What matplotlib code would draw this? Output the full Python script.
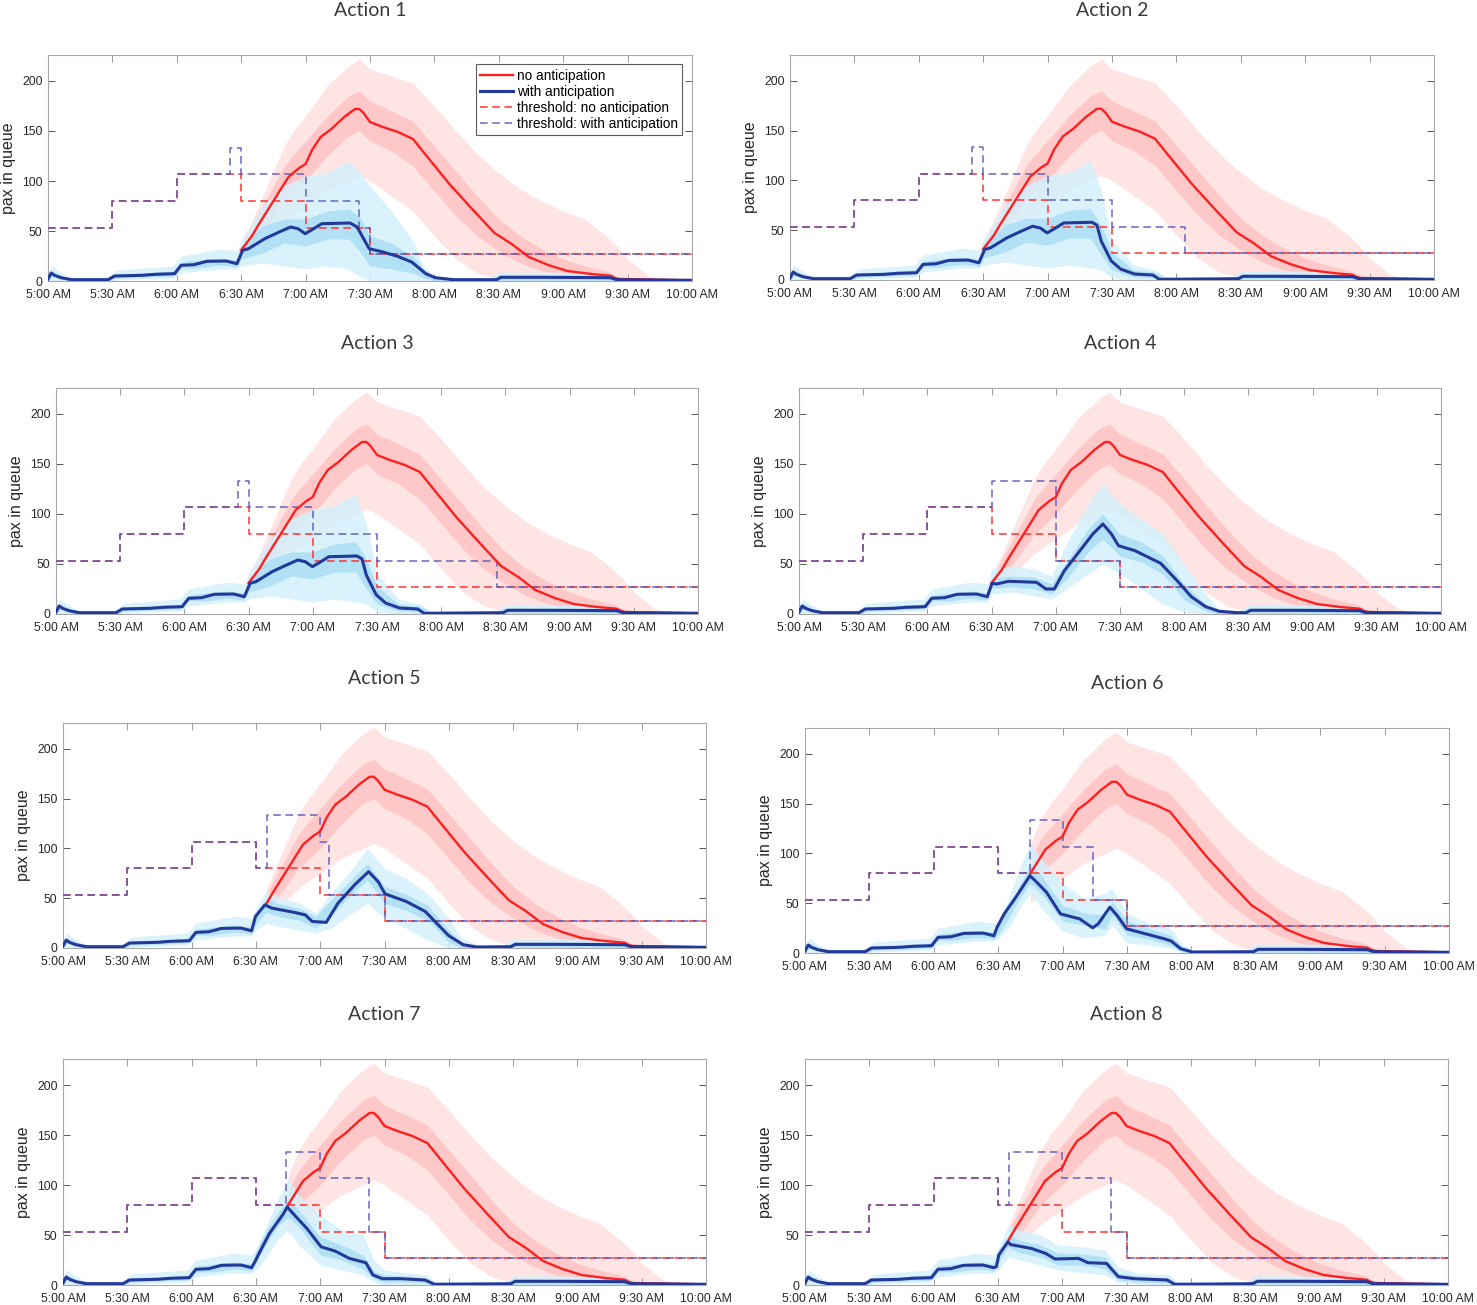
import matplotlib
matplotlib.use("Agg")
import matplotlib.pyplot as plt

# ---- axis text ----
titles = ["Action 1", "Action 2", "Action 3", "Action 4",
          "Action 5", "Action 6", "Action 7", "Action 8"]
tick_minutes = [0, 30, 60, 90, 120, 150, 180, 210, 240, 270, 300]
tick_labels = ["5:00 AM", "5:30 AM", "6:00 AM", "6:30 AM", "7:00 AM", "7:30 AM",
               "8:00 AM", "8:30 AM", "9:00 AM", "9:30 AM", "10:00 AM"]
y_ticks = [0, 50, 100, 150, 200]

# ---- thresholds (minutes after 5:00 AM, step starts) ----
red_thr_t = [0, 30, 60, 90, 120, 150, 300]
red_thr_v = [53.3, 80, 106.7, 80, 53.3, 26.7]
blue_thr_t = [
    [0, 30, 60, 85, 90, 120, 145, 150, 300],
    [0, 30, 60, 85, 90, 120, 150, 184, 300],
    [0, 30, 60, 85, 90, 120, 150, 206, 300],
    [0, 30, 60, 90, 120, 150, 300],
    [0, 30, 60, 90, 95, 120, 124, 150, 300],
    [0, 30, 60, 90, 105, 120, 134, 150, 300],
    [0, 30, 60, 90, 104, 120, 143, 150, 300],
    [0, 30, 60, 90, 95, 120, 143, 150, 300],
]
blue_thr_v = [
    [53.3, 80, 106.7, 133.3, 106.7, 80, 53.3, 26.7],
    [53.3, 80, 106.7, 133.3, 106.7, 80, 53.3, 26.7],
    [53.3, 80, 106.7, 133.3, 106.7, 80, 53.3, 26.7],
    [53.3, 80, 106.7, 133.3, 53.3, 26.7],
    [53.3, 80, 106.7, 80, 133.3, 106.7, 53.3, 26.7],
    [53.3, 80, 106.7, 80, 133.3, 106.7, 53.3, 26.7],
    [53.3, 80, 106.7, 80, 133.3, 106.7, 53.3, 26.7],
    [53.3, 80, 106.7, 80, 133.3, 106.7, 53.3, 26.7],
]

# ---- mean queue: no anticipation (shared) ----
red_t = [90, 95, 98, 105, 112, 117, 120, 123, 127, 132, 138, 143, 145, 147, 150, 156,
         163, 170, 176, 187, 198, 208, 216, 224, 233, 242, 253, 262, 264, 266, 280, 299]
red_v = [31, 45, 56, 80, 104, 113, 117, 131, 144, 152, 164, 172, 172, 168, 159, 154,
         149, 142, 126, 97, 71, 48, 37, 24, 16, 10, 7, 5.3, 3, 2, 1.5, 0.7]
red_start = [0, 0, 0, 0, 1, 3, 3, 1]  # index into red_t where red splits off

# ---- mean queue: with anticipation ----
blue_pre_t = [0, 1.5, 3, 6, 11, 28, 31, 44, 50, 59, 62, 68, 74, 83, 88]
blue_pre_v = [2, 8, 5.7, 3.3, 1.3, 1.3, 5, 5.7, 6.7, 7.3, 15.7, 16.3, 19.7, 20, 17.3]
blue_tail_t = [209, 211, 231, 262, 265, 300]
blue_tail_v = [1.3, 3.7, 3.7, 3.3, 1.3, 0.7]
blue_mid_t = [
    [90.7, 93.4, 101, 107.7, 113, 116.5, 119.8, 123, 127.5, 140.7, 144, 149.6, 156, 162.8, 169.4, 176, 180.4, 189],
    [90.7, 93.4, 101, 107.7, 113, 116.5, 119.8, 123, 127.5, 140.7, 143, 145, 149.6, 154, 160.5, 169, 172],
    [90.7, 93.4, 101, 107.7, 113, 116.5, 119.8, 123, 127.5, 140.7, 143, 145, 149.6, 154, 160.5, 169, 172],
    [90.2, 92.4, 97.9, 111, 115.4, 119.3, 124, 130.7, 137.3, 142, 146, 149.3, 157, 169, 176.7, 183.3, 190, 196.4, 205],
    [89.8, 94.2, 97.5, 107.4, 113, 116.2, 122.8, 128.3, 136, 142.6, 147, 150.3, 160.2, 169, 173.5, 180, 186.7, 193],
    [89.5, 92.8, 98.2, 104.8, 108, 112.5, 119, 127.9, 134, 136.6, 142, 145.4, 149.8, 158.6, 167.3, 170.6, 175, 180.5],
    [89.7, 93, 96.3, 102.9, 104.6, 109.5, 113.8, 120.4, 127, 133.6, 141.3, 144.6, 149, 157.8, 168.8, 173.2],
    [89.3, 90.4, 94.7, 95.8, 105.7, 112.3, 116.6, 127.6, 132, 140.7, 146.2, 153.8, 169, 172.4],
]
blue_mid_v = [
    [30.7, 32.3, 42.3, 49, 54, 52.3, 47.3, 51.3, 57.3, 58, 54, 32.3, 29, 24.7, 19, 7.3, 3.3, 1.3],
    [30.7, 32.3, 42.3, 49, 54, 52.3, 47.3, 51.3, 57.3, 58, 55, 39, 19.3, 11, 6, 5, 0.7],
    [30.7, 32.3, 42.3, 49, 54, 52.3, 47.3, 51.3, 57.3, 58, 55, 39, 19.3, 11, 6, 5, 0.7],
    [30.7, 30, 32.7, 31.7, 25, 25, 43.3, 61.7, 80, 90, 80, 68.3, 63.3, 50.7, 33.3, 17.3, 7.3, 2.7, 1.3],
    [31.7, 43.3, 40, 36, 33.3, 26.7, 25.7, 45, 63.3, 76.7, 66.7, 54.3, 46.7, 36.7, 26.7, 12.3, 3.3, 1],
    [26, 39.3, 56, 77.7, 71, 61, 39.3, 34.3, 25.3, 29.3, 46, 37.7, 24.3, 19.3, 14.3, 12, 4.3, 1],
    [24, 38, 51.5, 71.4, 78, 66.4, 56.5, 38.2, 33.9, 26.6, 22.3, 10, 6.3, 6.3, 5, 0.7],
    [18.3, 30, 43.2, 40.5, 36.5, 31.6, 26, 26.6, 22.3, 21.6, 8.3, 6.3, 5, 0.7],
]

# ---- spread of the simulated runs: no anticipation ----
red_env_t = [90, 95, 100, 105, 110, 115, 120, 130, 140, 145, 150, 160, 170, 180, 190,
             200, 210, 220, 230, 240, 250, 260, 265, 270, 280, 290]
red_out_hi = [40, 60, 85, 110, 135, 152, 165, 195, 215, 222, 212, 205, 198, 175, 150,
              127, 108, 92, 80, 70, 62, 45, 35, 22, 5, 0]
red_out_lo = [28, 32, 40, 50, 60, 68, 75, 90, 100, 105, 100, 85, 70, 45, 22,
              8, 2, 1, 0, 0, 0, 0, 0, 0, 0, 0]
red_in_hi = [35, 55, 75, 95, 115, 128, 140, 165, 185, 190, 180, 170, 160, 135, 110,
             85, 62, 45, 32, 22, 15, 10, 5, 2, 0, 0]
red_in_lo = [30, 38, 50, 65, 80, 90, 100, 125, 145, 150, 140, 130, 115, 90, 65,
             45, 30, 18, 10, 6, 3, 2, 1, 0, 0, 0]
red_env_start = [0, 0, 0, 0, 1, 3, 3, 1]

# ---- spread of the simulated runs: with anticipation ----
bpre_t = [0, 2, 5, 10, 28, 32, 45, 58, 62, 70, 80, 88]
bpre_out_hi = [8, 15, 10, 4, 4, 11, 13, 15, 25, 28, 32, 30]
bpre_out_lo = [0, 0, 0, 0, 0, 1, 2, 3, 8, 10, 12, 12]
bpre_in_hi = [5, 10, 7, 2, 2, 7, 8, 10, 19, 21, 23, 21]
bpre_in_lo = [0, 5, 3, 0, 0, 3, 4, 5, 13, 13, 16, 14]
btail_t = [205, 210, 230, 260, 265, 280, 300]
btail_out_hi = [2, 9, 9, 8, 4, 3, 2]
btail_out_lo = [0, 0, 0, 0, 0, 0, 0]
btail_in_hi = [1, 6, 6, 6, 2, 2, 1]
btail_in_lo = [0, 1, 1, 1, 0, 0, 0]

benv_t = [
    [90, 100, 110, 120, 130, 140, 145, 150, 160, 170, 175, 180, 190],
    [90, 100, 110, 120, 130, 140, 145, 150, 160, 170, 175, 180],
    [90, 100, 110, 120, 130, 140, 145, 150, 160, 170, 175, 180],
    [90, 100, 110, 118, 125, 135, 142, 150, 160, 170, 180, 190, 196, 202],
    [90, 95, 100, 110, 118, 125, 135, 142, 150, 160, 170, 180, 186, 195],
    [90, 95, 100, 105, 110, 120, 130, 140, 143, 150, 160, 170, 176, 182],
    [90, 95, 100, 105, 110, 120, 130, 140, 145, 150, 160, 170, 174],
    [90, 95, 100, 110, 118, 130, 140, 146, 155, 170, 174],
]
benv_out_hi = [
    [40, 75, 95, 105, 108, 120, 110, 95, 70, 40, 15, 5, 2],
    [40, 75, 95, 105, 108, 120, 90, 40, 15, 10, 3, 2],
    [40, 75, 95, 105, 108, 120, 90, 40, 15, 10, 3, 2],
    [45, 48, 45, 38, 70, 110, 130, 110, 95, 80, 50, 20, 5, 2],
    [40, 58, 52, 45, 35, 55, 80, 100, 80, 70, 55, 30, 10, 2],
    [30, 55, 85, 110, 95, 70, 55, 60, 65, 40, 30, 25, 8, 2],
    [35, 60, 85, 105, 90, 70, 55, 50, 25, 15, 12, 10, 3],
    [35, 60, 55, 50, 40, 38, 35, 18, 12, 10, 3],
]
benv_out_lo = [
    [15, 18, 15, 12, 15, 12, 5, 0, 0, 0, 0, 0, 0],
    [15, 18, 15, 12, 15, 12, 10, 2, 0, 0, 0, 0],
    [15, 18, 15, 12, 15, 12, 10, 2, 0, 0, 0, 0],
    [20, 22, 18, 15, 25, 40, 50, 40, 25, 10, 2, 0, 0, 0],
    [18, 25, 22, 18, 15, 20, 35, 45, 30, 20, 8, 0, 0, 0],
    [15, 25, 45, 60, 45, 22, 15, 18, 28, 10, 8, 5, 0, 0],
    [15, 28, 45, 55, 40, 20, 15, 10, 3, 0, 0, 0, 0],
    [15, 28, 25, 20, 15, 12, 10, 3, 1, 0, 0],
]
benv_in_hi = [
    [35, 55, 62, 62, 70, 72, 65, 45, 38, 25, 12, 4, 1],
    [35, 55, 62, 62, 70, 72, 55, 28, 10, 8, 2, 1],
    [35, 55, 62, 62, 70, 72, 55, 28, 10, 8, 2, 1],
    [36, 38, 37, 30, 52, 85, 100, 80, 72, 58, 30, 10, 3, 1],
    [35, 50, 45, 40, 32, 48, 70, 85, 62, 54, 43, 18, 6, 1],
    [30, 45, 68, 88, 78, 48, 40, 38, 52, 32, 25, 18, 6, 2],
    [34, 55, 72, 85, 75, 48, 40, 30, 14, 10, 9, 7, 2],
    [34, 50, 45, 40, 32, 31, 28, 12, 9, 7, 2],
]
benv_in_lo = [
    [22, 28, 38, 35, 42, 42, 30, 15, 12, 8, 3, 0, 0],
    [22, 28, 38, 35, 42, 42, 25, 10, 3, 2, 0, 0],
    [22, 28, 38, 35, 42, 42, 25, 10, 3, 2, 0, 0],
    [26, 27, 25, 20, 35, 62, 75, 58, 52, 40, 14, 3, 0, 0],
    [24, 36, 32, 28, 20, 32, 55, 68, 45, 38, 28, 6, 0, 0],
    [18, 35, 55, 70, 60, 32, 28, 24, 38, 18, 14, 8, 1, 0],
    [22, 42, 58, 68, 58, 30, 25, 16, 6, 3, 3, 2, 0],
    [22, 38, 32, 28, 20, 20, 16, 5, 3, 2, 0],
]

# panel boxes in pixels: left, top, right, bottom
W, H = 1477, 1305
boxes = [(48, 55, 692, 281), (790, 55, 1434, 280),
         (56, 388, 698, 614), (799, 388, 1441, 614),
         (63, 723, 706, 948), (805, 728, 1449, 953),
         (63, 1059, 706, 1285), (805, 1059, 1448, 1285)]

RED = "#ff1f1f"
BLUE = "#23399a"
RED_THR = "#ff3030"
BLUE_THR = "#5656b8"

plt.rcParams["font.family"] = ["Liberation Sans", "DejaVu Sans"]
fig = plt.figure(figsize=(W / 100, H / 100), dpi=100)

for i in range(8):
    l, t, r, b = boxes[i]
    ax = fig.add_axes([l / W, 1 - b / H, (r - l) / W, (b - t) / H])

    # clouds of runs
    s = red_env_start[i]
    ax.fill_between(red_env_t[s:], red_out_lo[s:], red_out_hi[s:],
                    color="#ffe4e4", lw=0, zorder=1)
    ax.fill_between(red_env_t[s:], red_in_lo[s:], red_in_hi[s:],
                    color="#ffc2c2", lw=0, alpha=0.8, zorder=1)
    bt = bpre_t + benv_t[i] + btail_t
    ax.fill_between(bt, bpre_out_lo + benv_out_lo[i] + btail_out_lo,
                    bpre_out_hi + benv_out_hi[i] + btail_out_hi,
                    color="#d4f0fc", lw=0, alpha=0.85, zorder=2)
    ax.fill_between(bt, bpre_in_lo + benv_in_lo[i] + btail_in_lo,
                    bpre_in_hi + benv_in_hi[i] + btail_in_hi,
                    color="#abdef6", lw=0, alpha=0.85, zorder=2)

    # thresholds
    ax.step(red_thr_t, red_thr_v + [red_thr_v[-1]], where="post", color=RED_THR,
            lw=1.1, ls=(0, (5, 3)), zorder=3, label="threshold: no anticipation")
    ax.step(blue_thr_t[i], blue_thr_v[i] + [blue_thr_v[i][-1]], where="post",
            color=BLUE_THR, lw=1.1, ls=(0, (5, 3)), alpha=0.9, zorder=4,
            label="threshold: with anticipation")

    # means
    ax.plot(red_t[red_start[i]:], red_v[red_start[i]:], color=RED, lw=1.7, zorder=5,
            label="no anticipation")
    ax.plot(blue_pre_t + blue_mid_t[i] + blue_tail_t,
            blue_pre_v + blue_mid_v[i] + blue_tail_v,
            color=BLUE, lw=2.2, zorder=6, label="with anticipation")

    ax.set_xlim(0, 300)
    ax.set_ylim(0, 226)
    ax.set_xticks(tick_minutes)
    ax.set_xticklabels(tick_labels)
    ax.set_yticks(y_ticks)
    ax.tick_params(direction="in", length=5, width=0.7, top=True, right=True,
                   labelsize=8.8, colors="#262626")
    ax.tick_params(axis="x", colors="#9a9a9a", labelcolor="#262626", pad=6)
    ax.tick_params(axis="y", colors="#555555", labelcolor="#262626", pad=4)
    for sp in ax.spines.values():
        sp.set_color("#a8a8a8")
        sp.set_linewidth(0.8)
    ax.set_ylabel("pax in queue", fontsize=11.5, color="#262626", labelpad=4)
    ax.set_title(titles[i], fontsize=14, color="#3a3a3a", pad=28,
                 fontfamily=["Lato", "DejaVu Sans"])

    if i == 0:
        h, lab = ax.get_legend_handles_labels()
        order = [2, 3, 0, 1]
        leg = ax.legend([h[k] for k in order], [lab[k] for k in order],
                        loc="upper right", bbox_to_anchor=(0.984, 0.958),
                        fontsize=9.8, frameon=True, fancybox=False,
                        borderpad=0.3, labelspacing=0.15, handlelength=2.4,
                        handletextpad=0.3, borderaxespad=0)
        leg.get_frame().set_edgecolor("#333333")
        leg.get_frame().set_linewidth(0.8)

fig.savefig("out.png", dpi=100)
